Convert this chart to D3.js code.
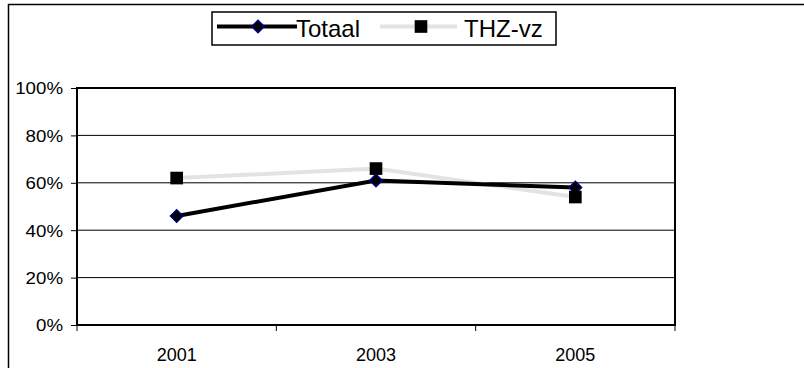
<!DOCTYPE html>
<html>
<head>
<meta charset="utf-8">
<script src="https://cdn.jsdelivr.net/npm/d3@7"></script>
<style>
  body { margin: 0; background: #fff; }
  svg { display: block; font-family: "Liberation Sans", Arial, sans-serif; }
</style>
</head>
<body>
<div id="chart"></div>
<script>
// data
const years = ["2001", "2003", "2005"];
const totaal = [0.46, 0.61, 0.58];
const thzvz = [0.62, 0.66, 0.54];
const yTicks = [0, 0.2, 0.4, 0.6, 0.8, 1.0];

const W = 804, H = 368;
const svg = d3.select("#chart").append("svg")
    .attr("width", W)
    .attr("height", H);

svg.append("rect")
    .attr("width", W).attr("height", H)
    .attr("fill", "#fff");

// outer chart frame (runs off right and bottom edge)
svg.append("rect")
    .attr("x", 8.5).attr("y", 4.5)
    .attr("width", W + 20).attr("height", H + 20)
    .attr("fill", "none")
    .attr("stroke", "#000")
    .attr("stroke-width", 1.5);

const plot = { left: 77, right: 675, top: 88, bottom: 325 };

const x = d3.scaleBand()
    .domain(years)
    .range([plot.left, plot.right]);

const y = d3.scaleLinear()
    .domain([0, 1])
    .range([plot.bottom, plot.top]);

// gridlines
svg.append("g")
    .selectAll("line")
    .data(yTicks.filter(d => d > 0 && d < 1))
    .join("line")
    .attr("x1", plot.left).attr("x2", plot.right)
    .attr("y1", d => y(d)).attr("y2", d => y(d))
    .attr("stroke", "#000")
    .attr("stroke-width", 1);

// y axis
const yAxis = svg.append("g")
    .attr("transform", `translate(${plot.left},0)`)
    .call(d3.axisLeft(y).tickValues(yTicks).tickFormat(d3.format(".0%")).tickSize(6).tickPadding(8));
yAxis.select(".domain").remove();
yAxis.selectAll("text")
    .attr("font-size", 17)
    .attr("fill", "#000")
    .attr("font-family", "Liberation Sans, Arial, sans-serif")
    .attr("transform", "scale(1.1,1)")
    .attr("x", -14 / 1.1)
    .attr("dy", "0.35em");
yAxis.selectAll("line").attr("stroke", "#000");

// x axis ticks at band boundaries
const xBounds = years.map(d => x(d)).concat([plot.right]);
svg.append("g")
    .selectAll("line")
    .data(xBounds)
    .join("line")
    .attr("x1", d => d).attr("x2", d => d)
    .attr("y1", plot.bottom).attr("y2", plot.bottom + 6)
    .attr("stroke", "#000");

svg.append("g")
    .selectAll("text")
    .data(years)
    .join("text")
    .attr("x", d => x(d) + x.bandwidth() / 2)
    .attr("y", 361)
    .attr("text-anchor", "middle")
    .attr("font-size", 18)
    .text(d => d);

// plot frame
svg.append("rect")
    .attr("x", plot.left).attr("y", plot.top)
    .attr("width", plot.right - plot.left)
    .attr("height", plot.bottom - plot.top)
    .attr("fill", "none")
    .attr("stroke", "#000")
    .attr("stroke-width", 2);

const cx = d => x(d) + x.bandwidth() / 2;
const line = d3.line()
    .x((d, i) => cx(years[i]))
    .y(d => y(d));

// THZ-vz series
svg.append("path")
    .datum(thzvz)
    .attr("d", line)
    .attr("fill", "none")
    .attr("stroke", "#e3e3e3")
    .attr("stroke-width", 4);

// Totaal series
svg.append("path")
    .datum(totaal)
    .attr("d", line)
    .attr("fill", "none")
    .attr("stroke", "#000")
    .attr("stroke-width", 4);

const diamond = d3.symbol().type(d3.symbolDiamond2).size(100);
const square = d3.symbol().type(d3.symbolSquare).size(160);

svg.append("g")
    .selectAll("path")
    .data(totaal)
    .join("path")
    .attr("d", diamond)
    .attr("transform", (d, i) => `translate(${cx(years[i])},${y(d)})`)
    .attr("fill", "#000")
    .attr("stroke", "#000080")
    .attr("stroke-width", 1.5);

svg.append("g")
    .selectAll("path")
    .data(thzvz)
    .join("path")
    .attr("d", square)
    .attr("transform", (d, i) => `translate(${cx(years[i])},${y(d)})`)
    .attr("fill", "#000");

// legend
const lg = svg.append("g");
lg.append("rect")
    .attr("x", 212).attr("y", 12)
    .attr("width", 344).attr("height", 33)
    .attr("fill", "#fff")
    .attr("stroke", "#000")
    .attr("stroke-width", 1.5);

lg.append("line")
    .attr("x1", 217).attr("x2", 297).attr("y1", 26.5).attr("y2", 26.5)
    .attr("stroke", "#000").attr("stroke-width", 4);
lg.append("path")
    .attr("d", diamond)
    .attr("transform", "translate(258,26.5)")
    .attr("fill", "#000").attr("stroke", "#000080").attr("stroke-width", 1.5);
lg.append("text")
    .attr("x", 296).attr("y", 37)
    .attr("font-size", 24)
    .text("Totaal");

lg.append("line")
    .attr("x1", 380).attr("x2", 457).attr("y1", 26.5).attr("y2", 26.5)
    .attr("stroke", "#e3e3e3").attr("stroke-width", 4);
lg.append("path")
    .attr("d", square)
    .attr("transform", "translate(421,26.5)")
    .attr("fill", "#000");
lg.append("text")
    .attr("x", 464).attr("y", 37)
    .attr("font-size", 24)
    .text("THZ-vz");
</script>
</body>
</html>
